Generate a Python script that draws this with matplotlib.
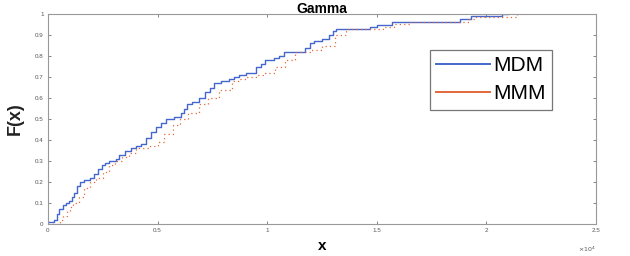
import matplotlib
matplotlib.use('Agg')
import matplotlib.pyplot as plt
from matplotlib.lines import Line2D
from matplotlib.ticker import FuncFormatter

plt.rcParams['font.family'] = ['Liberation Sans', 'DejaVu Sans']

mdm_x = [0, 300, 400, 530, 700, 830, 985, 1100, 1210, 1350, 1470, 1670, 1920, 2100,
         2270, 2450, 2620, 2800, 3100, 3260, 3530, 3790, 4010, 4240, 4470, 4700, 4920,
         5150, 5380, 5760, 6060, 6200, 6360, 6560, 6890, 7170, 7400, 7580, 7880, 8260,
         8500, 8710, 9020, 9470, 9700, 9920, 10300, 10530, 10760, 11740, 11950, 12120,
         12500, 12800, 13000, 13150, 14700, 15000, 15700, 18800, 19300, 20700, 21000]
mdm_f = [0.01, 0.02, 0.05, 0.07, 0.09, 0.10, 0.11, 0.13, 0.15, 0.18, 0.20, 0.21, 0.22, 0.24,
         0.26, 0.28, 0.29, 0.30, 0.31, 0.33, 0.35, 0.36, 0.37, 0.38, 0.41, 0.44, 0.46,
         0.48, 0.50, 0.51, 0.53, 0.55, 0.57, 0.58, 0.60, 0.63, 0.65, 0.67, 0.68, 0.69,
         0.70, 0.71, 0.72, 0.75, 0.76, 0.78, 0.79, 0.80, 0.82, 0.84, 0.86, 0.87,
         0.88, 0.90, 0.92, 0.93, 0.94, 0.95, 0.96, 0.975, 0.99, 1.0, 1.0]

mmm_x = [0, 550, 700, 850, 1000, 1150, 1400, 1650, 1920, 2200, 2500, 2800, 3060, 3400,
         3700, 4040, 4650, 5020, 5300, 5700, 6020, 6400, 6890, 7300, 7800, 8400, 8700,
         9020, 9500, 9920, 10380, 10830, 11290, 12000, 12500, 13100, 13600, 13700, 15300,
         15800, 16500, 19200, 19500, 21400, 21600]
mmm_f = [0.0, 0.02, 0.04, 0.06, 0.08, 0.10, 0.13, 0.17, 0.20, 0.22, 0.25, 0.28, 0.30, 0.32,
         0.34, 0.36, 0.37, 0.39, 0.43, 0.47, 0.50, 0.53, 0.57, 0.60, 0.64, 0.68, 0.69,
         0.70, 0.71, 0.72, 0.75, 0.78, 0.82, 0.83, 0.85, 0.90, 0.92, 0.93, 0.94,
         0.955, 0.96, 0.975, 0.985, 1.0, 1.0]

blue = '#4467cf'
orange = '#e2683a'

fig = plt.figure(figsize=(6.3, 2.56), dpi=100)
ax = fig.add_axes([0.076, 0.125, 0.870, 0.820])

ax.plot(mdm_x, mdm_f, drawstyle='steps-post', color=blue, lw=1.0)
ax.plot(mmm_x, mmm_f, drawstyle='steps-post', color=orange, lw=0.9, ls=(0, (1, 2.5)))

ax.set_xlim(0, 25000)
ax.set_ylim(0, 1)
ax.set_xticks([0, 5000, 10000, 15000, 20000, 25000])
ax.set_yticks([i / 10 for i in range(11)])
ax.xaxis.set_major_formatter(FuncFormatter(lambda v, p: f'{v / 1e4:g}'))
ax.yaxis.set_major_formatter(FuncFormatter(lambda v, p: f'{v:g}'))
ax.tick_params(direction='in', top=True, right=True, labelsize=4.5, length=2.5,
               width=0.5, colors='#555555', pad=3)
for s in ax.spines.values():
    s.set_color('#999999')
    s.set_linewidth(0.8)

ax.text(1.0, -0.1, '$\\times10^4$', transform=ax.transAxes, ha='right', va='top',
        fontsize=4.5, color='#555555')

ax.set_title('Gamma', fontsize=10, fontweight='bold', pad=1)
ax.set_xlabel('x', fontsize=11, fontweight='bold', labelpad=4)
ax.set_ylabel('F(x)', fontsize=13, fontweight='bold', labelpad=8, color='#222222')

handles = [Line2D([], [], color=blue, lw=1.4), Line2D([], [], color=orange, lw=1.4)]
leg = ax.legend(handles, ['MDM', 'MMM'], loc='upper left', bbox_to_anchor=(0.697, 0.83),
                fontsize=15, frameon=True, fancybox=False, handlelength=2.6,
                handletextpad=0.15, borderpad=0.3, labelspacing=0.45, borderaxespad=0)
leg.get_frame().set_edgecolor('#555555')
leg.get_frame().set_linewidth(0.9)

fig.savefig('out.png', dpi=100)
